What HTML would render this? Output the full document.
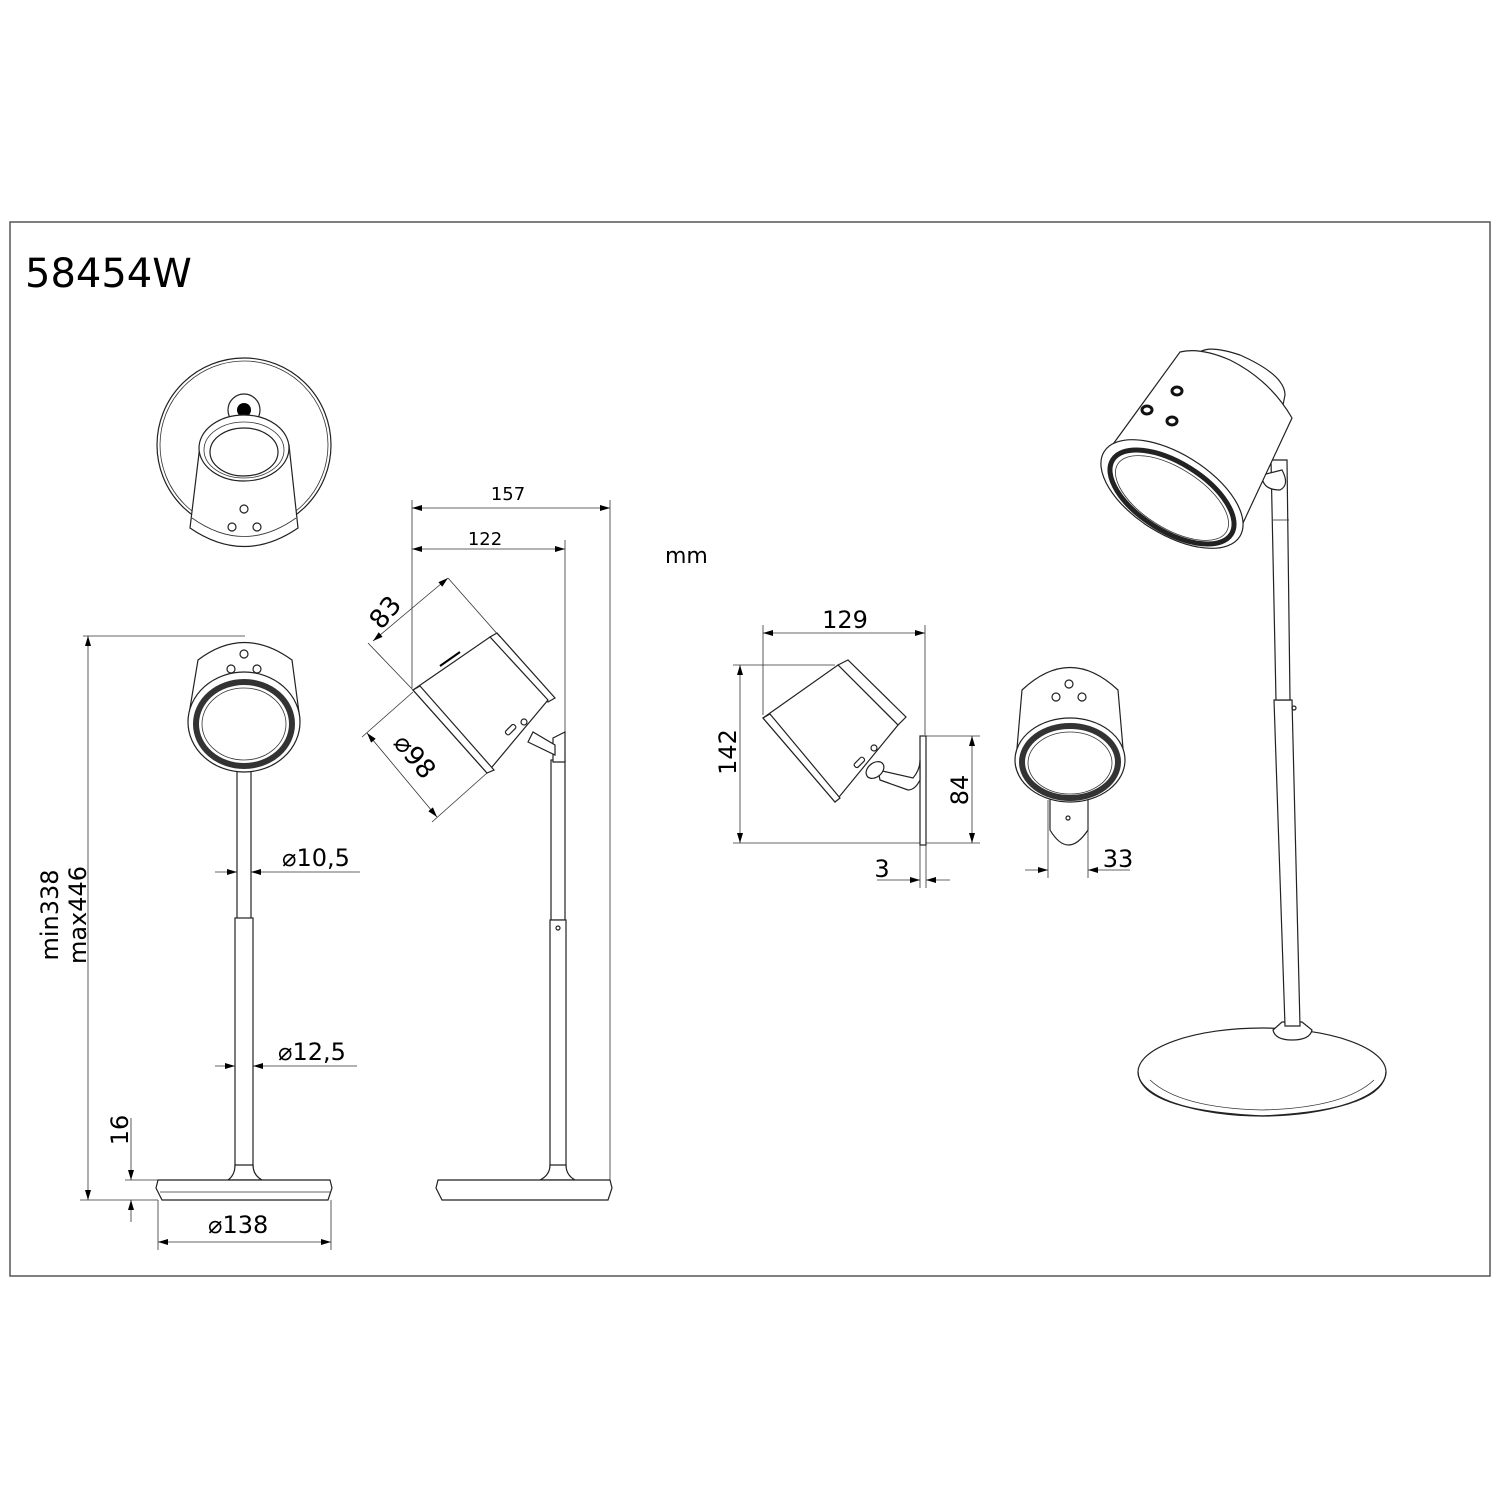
<!DOCTYPE html>
<html><head><meta charset="utf-8"><style>
html,body{margin:0;padding:0;background:#fff}
svg{display:block}
text{font-family:"DejaVu Sans","Liberation Sans",sans-serif;fill:#000}
.s{fill:none;stroke:#222;stroke-width:1.2}
.t{fill:none;stroke:#333;stroke-width:0.8}
.w{fill:#fff;stroke:#222;stroke-width:1.2}
</style></head><body>
<svg width="1500" height="1500" viewBox="0 0 1500 1500" xmlns="http://www.w3.org/2000/svg">
<defs>
<marker id="a" viewBox="0 0 10 6" refX="10" refY="3" markerWidth="16" markerHeight="6" markerUnits="userSpaceOnUse" orient="auto-start-reverse"><path d="M0,0L10,3L0,6z" fill="#000"/></marker>
</defs>
<rect x="10" y="222" width="1480" height="1054" fill="none" stroke="#555" stroke-width="1.5"/>
<text x="25" y="287" font-size="40">58454W</text>
<text x="665" y="563" font-size="22">mm</text>

<!-- top view -->
<circle cx="244" cy="445" r="87" class="s"/>
<circle cx="244" cy="445" r="84" class="t"/>
<circle cx="244" cy="410" r="16" class="w"/>
<circle cx="244" cy="410" r="7" fill="#000"/>
<path d="M200,445 L190,528 Q244,565 298,528 L289,445 Z" class="w"/>
<path d="M192,518 Q244,555 296,518" class="t"/>
<ellipse cx="244" cy="448" rx="45" ry="33" class="w"/>
<ellipse cx="244" cy="450" rx="40" ry="28" class="t"/>
<ellipse cx="244" cy="452" rx="34" ry="24" class="w"/>
<circle cx="244" cy="509" r="4" class="s" stroke-width="2"/>
<circle cx="232" cy="527" r="4" class="s" stroke-width="2"/>
<circle cx="257" cy="527" r="4" class="s" stroke-width="2"/>

<!-- front view left -->
<line x1="83" y1="636" x2="245" y2="636" class="t"/>
<line x1="88" y1="636" x2="88" y2="1200" class="t" marker-start="url(#a)" marker-end="url(#a)"/>
<line x1="80" y1="1200" x2="158" y2="1200" class="t"/>
<text transform="translate(58,915) rotate(-90)" font-size="24" text-anchor="middle">min338</text>
<text transform="translate(86,915) rotate(-90)" font-size="24" text-anchor="middle">max446</text>
<path d="M198,660 Q244,625 292,660 L300,720 L188,720 Z" class="w"/>
<rect x="237" y="770" width="14" height="150" class="w"/>
<rect x="235" y="918" width="18" height="255" class="w"/>
<path d="M228,1180 Q235,1175 235,1165 L253,1165 Q253,1175 262,1180 Z" class="w"/>
<path d="M158,1180 L330,1180 L332,1188 L328,1200 L162,1200 L156,1188 Z" class="w"/>
<line x1="160" y1="1192" x2="330" y2="1192" class="t"/>
<ellipse cx="244" cy="722" rx="56" ry="50" class="w"/>
<ellipse cx="244" cy="724" rx="48" ry="42" fill="none" stroke="#333" stroke-width="6"/>
<ellipse cx="244" cy="724" rx="42" ry="36" class="t"/>
<circle cx="244" cy="654" r="4" class="s" stroke-width="2"/>
<circle cx="231" cy="669" r="4" class="s" stroke-width="2"/>
<circle cx="257" cy="669" r="4" class="s" stroke-width="2"/>
<line x1="215" y1="872" x2="237" y2="872" class="t" marker-end="url(#a)"/>
<line x1="360" y1="872" x2="251" y2="872" class="t" marker-end="url(#a)"/>
<text x="282" y="866" font-size="24">⌀10,5</text>
<line x1="215" y1="1066" x2="235" y2="1066" class="t" marker-end="url(#a)"/>
<line x1="357" y1="1066" x2="253" y2="1066" class="t" marker-end="url(#a)"/>
<text x="278" y="1060" font-size="24">⌀12,5</text>
<line x1="125" y1="1180" x2="158" y2="1180" class="t"/>
<line x1="131" y1="1118" x2="131" y2="1180" class="t" marker-end="url(#a)"/>
<line x1="131" y1="1222" x2="131" y2="1200" class="t" marker-end="url(#a)"/>
<text transform="translate(128,1130) rotate(-90)" font-size="24" text-anchor="middle">16</text>
<line x1="158" y1="1200" x2="158" y2="1250" class="t"/>
<line x1="331" y1="1200" x2="331" y2="1250" class="t"/>
<line x1="158" y1="1242" x2="331" y2="1242" class="t" marker-start="url(#a)" marker-end="url(#a)"/>
<text x="208" y="1233" font-size="24">⌀138</text>

<!-- side view -->
<line x1="412" y1="500" x2="412" y2="688" class="t"/>
<line x1="565" y1="540" x2="565" y2="735" class="t"/>
<line x1="610" y1="500" x2="610" y2="1190" class="t"/>
<line x1="412" y1="508" x2="610" y2="508" class="t" marker-start="url(#a)" marker-end="url(#a)"/>
<line x1="412" y1="549" x2="565" y2="549" class="t" marker-start="url(#a)" marker-end="url(#a)"/>
<text x="508" y="500" font-size="18" text-anchor="middle" font-family="Liberation Serif">157</text>
<text x="485" y="545" font-size="18" text-anchor="middle" font-family="Liberation Serif">122</text>
<rect x="551" y="760" width="14" height="160" class="w"/>
<rect x="550" y="920" width="16" height="253" class="w"/>
<circle cx="558" cy="928" r="2" class="s"/>
<path d="M553,738 L565,732 L565,762 L553,762 Z" class="w"/>
<path d="M528,742 L555,755 L555,745 L533,732 Z" class="w"/>
<path d="M540,1180 Q550,1175 550,1165 L566,1165 Q566,1175 575,1180 Z" class="w"/>
<path d="M438,1180 L610,1180 L612,1188 L608,1200 L442,1200 L436,1188 Z" class="w"/>
<path d="M490,637 L497,633 L555,698 L548,702 Z" class="w"/>
<path d="M413,690 L490,637 L548,700 L487,773 Z" class="w"/>
<path d="M413,690 L420,686 L494,770 L487,773 Z" class="w"/>
<rect x="505" y="727" width="12" height="5" rx="2" transform="rotate(-45 511 730)" class="s"/>
<circle cx="524" cy="722" r="3" class="s"/>
<line x1="440" y1="666" x2="460" y2="652" stroke="#000" stroke-width="2"/>
<line x1="448" y1="578" x2="500" y2="637" class="t"/>
<line x1="368" y1="643" x2="413" y2="690" class="t"/>
<line x1="373" y1="641" x2="448" y2="578" class="t" marker-start="url(#a)" marker-end="url(#a)"/>
<text transform="translate(392,618) rotate(-50)" font-size="26" text-anchor="middle">83</text>
<line x1="362" y1="737" x2="413" y2="692" class="t"/>
<line x1="432" y1="822" x2="487" y2="773" class="t"/>
<line x1="367" y1="733" x2="437" y2="817" class="t" marker-start="url(#a)" marker-end="url(#a)"/>
<text transform="translate(408,762) rotate(50)" font-size="26" text-anchor="middle">⌀98</text>

<!-- middle side view -->
<line x1="763" y1="625" x2="763" y2="715" class="t"/>
<line x1="925" y1="625" x2="925" y2="735" class="t"/>
<line x1="763" y1="633" x2="925" y2="633" class="t" marker-start="url(#a)" marker-end="url(#a)"/>
<text x="845" y="628" font-size="24" text-anchor="middle">129</text>
<line x1="733" y1="665" x2="835" y2="665" class="t"/>
<line x1="733" y1="843" x2="980" y2="843" class="t"/>
<line x1="740" y1="665" x2="740" y2="843" class="t" marker-start="url(#a)" marker-end="url(#a)"/>
<text transform="translate(736,752) rotate(-90)" font-size="24" text-anchor="middle">142</text>
<line x1="925" y1="736" x2="980" y2="736" class="t"/>
<line x1="972" y1="736" x2="972" y2="843" class="t" marker-start="url(#a)" marker-end="url(#a)"/>
<text transform="translate(968,790) rotate(-90)" font-size="24" text-anchor="middle">84</text>
<rect x="920" y="736" width="6" height="109" class="w"/>
<line x1="920" y1="845" x2="920" y2="888" class="t"/>
<line x1="926" y1="845" x2="926" y2="888" class="t"/>
<line x1="877" y1="880" x2="920" y2="880" class="t" marker-end="url(#a)"/>
<line x1="950" y1="880" x2="926" y2="880" class="t" marker-end="url(#a)"/>
<text x="882" y="877" font-size="24" text-anchor="middle">3</text>
<path d="M878,770 L913,778 Q920,770 920,760 L920,780 Q915,790 908,790 L880,780 Z" class="w"/>
<path d="M838,665 L848,660 L906,717 L898,725 Z" class="w"/>
<path d="M763,718 L838,665 L898,725 L835,802 Z" class="w"/>
<path d="M763,718 L770,714 L840,798 L835,802 Z" class="w"/>
<ellipse cx="875" cy="770" rx="10" ry="7" transform="rotate(-40 875 770)" class="w"/>
<rect x="853" y="760" width="12" height="5" rx="2" transform="rotate(-45 859 762)" class="s"/>
<circle cx="874" cy="748" r="3" class="s"/>
<!-- middle front view -->
<path d="M1050,795 L1088,795 L1088,830 Q1068,860 1050,830 Z" class="w"/>
<circle cx="1068" cy="818" r="2" class="s"/>
<path d="M1022,690 Q1070,645 1118,690 L1124,760 L1016,760 Z" class="w"/>
<ellipse cx="1070" cy="760" rx="55" ry="42" class="w"/>
<ellipse cx="1070" cy="762" rx="48" ry="36" fill="none" stroke="#333" stroke-width="6"/>
<ellipse cx="1070" cy="763" rx="42" ry="31" class="t"/>
<circle cx="1069" cy="684" r="4" class="s" stroke-width="2"/>
<circle cx="1056" cy="697" r="4" class="s" stroke-width="2"/>
<circle cx="1082" cy="697" r="4" class="s" stroke-width="2"/>
<line x1="1048" y1="800" x2="1048" y2="878" class="t"/>
<line x1="1088" y1="800" x2="1088" y2="878" class="t"/>
<line x1="1025" y1="870" x2="1048" y2="870" class="t" marker-end="url(#a)"/>
<line x1="1130" y1="870" x2="1088" y2="870" class="t" marker-end="url(#a)"/>
<text x="1118" y="867" font-size="24" text-anchor="middle">33</text>

<!-- perspective -->
<ellipse cx="1262" cy="1072" rx="124" ry="44" class="w"/>
<path d="M1138,1072 Q1140,1110 1262,1116 Q1384,1110 1386,1072" class="s"/>
<path d="M1150,1080 Q1180,1108 1262,1110 Q1344,1108 1374,1080" class="t"/>
<path d="M1273,1030 Q1275,1040 1292,1040 Q1310,1040 1312,1030 L1302,1022 L1282,1022 Z" class="w"/>
<path d="M1274,700 L1285,1026 L1300,1026 L1292,700 Z" class="w"/>
<path d="M1271,460 L1276,700 L1290,700 L1287,460 Z" class="w"/>
<line x1="1273" y1="520" x2="1289" y2="520" class="t"/>
<circle cx="1294" cy="708" r="2" class="s"/>
<path d="M1262,475 Q1262,490 1280,490 Q1290,485 1282,470 Z" class="w"/>
<path d="M1200,352 Q1210,345 1240,355 Q1285,375 1285,395 L1283,405 L1195,360 Z" class="w"/>
<path d="M1103,458 L1180,352 Q1200,347 1230,360 Q1270,380 1292,418 L1236,538 Z" class="w"/>
<ellipse cx="1172" cy="494" rx="80" ry="40" transform="rotate(32 1172 494)" class="w"/>
<ellipse cx="1172" cy="497" rx="70" ry="34" transform="rotate(32 1172 497)" fill="none" stroke="#222" stroke-width="5"/>
<ellipse cx="1172" cy="498" rx="64" ry="30" transform="rotate(32 1172 498)" class="t"/>
<ellipse cx="1177" cy="391" rx="5" ry="4" fill="none" stroke="#111" stroke-width="3"/>
<ellipse cx="1147" cy="410" rx="5" ry="4" fill="none" stroke="#111" stroke-width="3"/>
<ellipse cx="1172" cy="421" rx="5" ry="4" fill="none" stroke="#111" stroke-width="3"/>
</svg>
</body></html>
